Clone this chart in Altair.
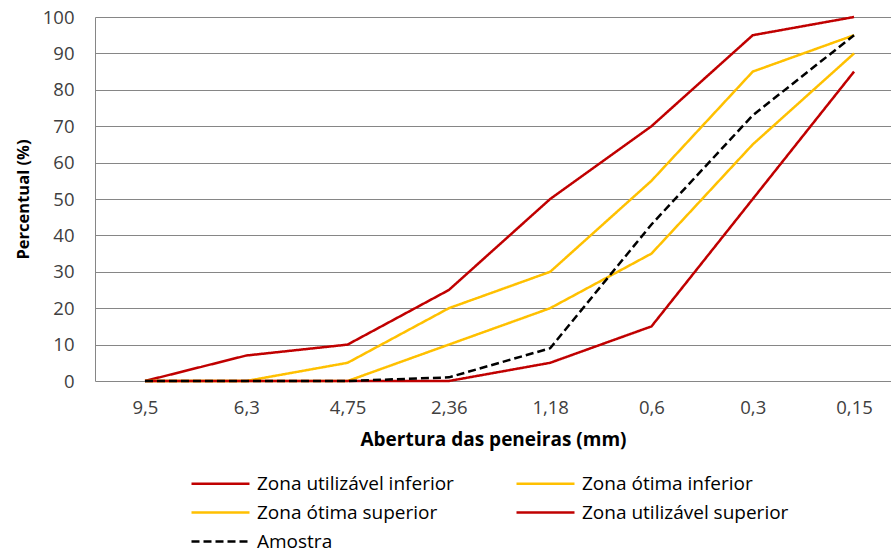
import altair as alt
import pandas as pd

# Sieve openings (mm), coarsest to finest
aberturas = ["9,5", "6,3", "4,75", "2,36", "1,18", "0,6", "0,3", "0,15"]

series = [
    "Zona utilizável inferior",
    "Zona ótima inferior",
    "Zona ótima superior",
    "Zona utilizável superior",
    "Amostra",
]

# Cumulative percentages per sieve
util_inferior = [0, 7, 10, 25, 50, 70, 95, 100]
otima_inferior = [0, 0, 5, 20, 30, 55, 85, 95]
otima_superior = [0, 0, 0, 10, 20, 35, 65, 90]
util_superior = [0, 0, 0, 0, 5, 15, 50, 85]
amostra = [0, 0, 0, 1, 9, 43, 73, 95]

cores = ["#C00000", "#FFC000", "#FFC000", "#C00000", "#000000"]
tracos = [[1, 0], [1, 0], [1, 0], [1, 0], [8, 4]]

valores = [util_inferior, otima_inferior, otima_superior, util_superior, amostra]
rows = []
for nome, vals in zip(series, valores):
    for ab, v in zip(aberturas, vals):
        rows.append({"serie": nome, "abertura": ab, "percentual": v})
df = pd.DataFrame(rows)

FONT = "Open Sans"

# long horizontal legend key drawn from a small symbol size
legenda = alt.Legend(
    title=None,
    orient="none",
    direction="horizontal",
    legendX=95,
    legendY=455,
    columns=2,
    columnPadding=57,
    rowPadding=7,
    symbolType="M-1,0H4.8",
    symbolSize=400,
    symbolStrokeWidth=2.5,
    labelOffset=44,
    labelLimit=0,
    labelFontSize=19,
    labelFont=FONT,
    labelColor="#000000",
)

chart = (
    alt.Chart(df)
    .mark_line(strokeWidth=2.5)
    .encode(
        x=alt.X(
            "abertura:N",
            sort=aberturas,
            scale=alt.Scale(type="point", padding=0.429, align=0.575),
            axis=alt.Axis(
                title="Abertura das peneiras (mm)",
                labelAngle=0,
                ticks=False,
                grid=False,
                domain=False,
                labelPadding=17,
                titlePadding=14,
                titleFontSize=19,
            ),
        ),
        y=alt.Y(
            "percentual:Q",
            scale=alt.Scale(domain=[0, 100], nice=False),
            axis=alt.Axis(
                title="Percentual (%)",
                values=list(range(0, 101, 10)),
                ticks=False,
                grid=True,
                labelPadding=21,
                titlePadding=11,
                titleFontSize=16.5,
            ),
        ),
        color=alt.Color(
            "serie:N",
            sort=series,
            scale=alt.Scale(domain=series, range=cores),
            legend=legenda,
        ),
        strokeDash=alt.StrokeDash(
            "serie:N",
            sort=series,
            scale=alt.Scale(domain=series, range=tracos),
            legend=legenda,
        ),
    )
    .properties(
        width=796,
        height=364,
        padding={"left": 95, "top": 17, "right": 0, "bottom": 171},
        autosize=alt.AutoSizeParams(type="none"),
    )
    .configure_view(stroke=None)
    .configure_axis(
        labelFont=FONT,
        labelFontSize=18.5,
        labelColor="#404040",
        titleFont=FONT,
        titleFontWeight="bold",
        titleColor="#000000",
        gridColor="#868686",
        gridWidth=1,
        domainColor="#868686",
        domainWidth=1,
    )
)

chart.save("out.html", embed_options={"renderer": "svg", "actions": False})
